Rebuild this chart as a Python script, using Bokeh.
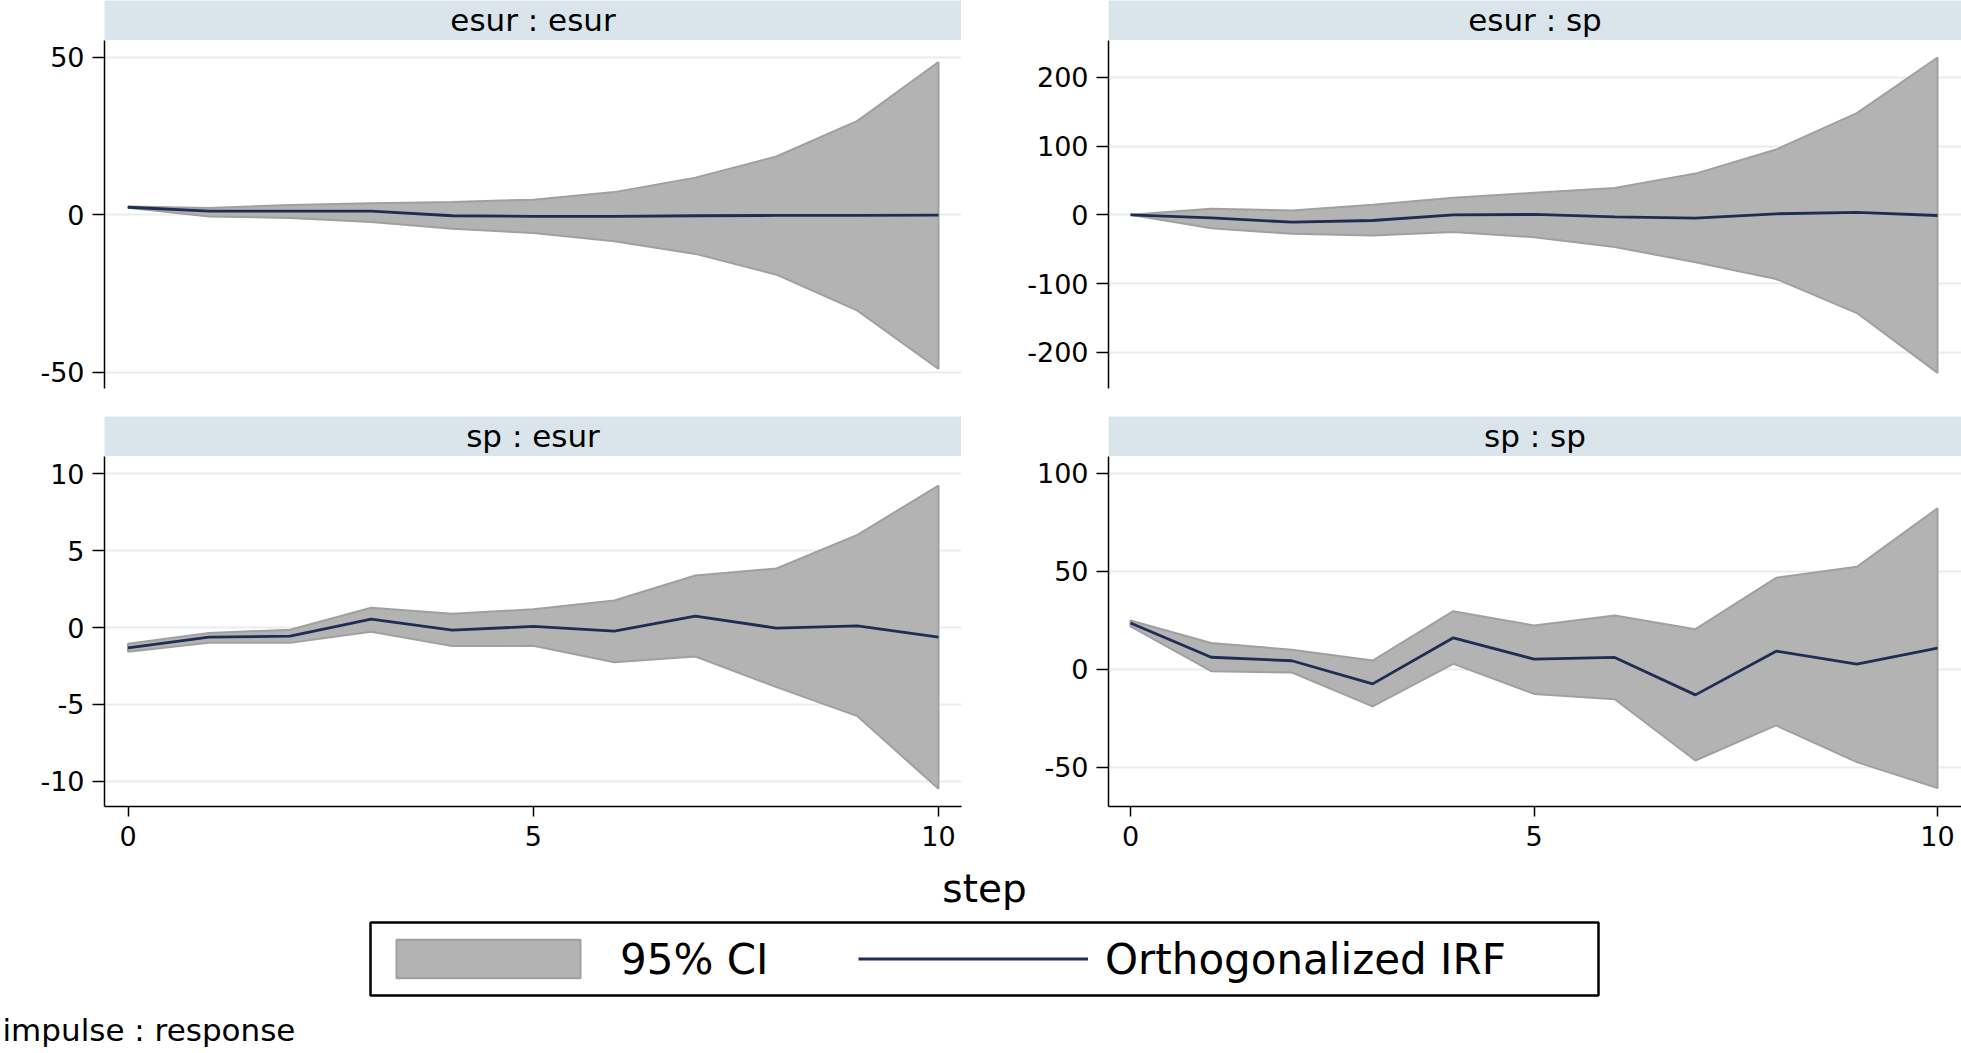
from bokeh.plotting import figure
from bokeh.models import Range1d, FixedTicker, Label, Legend, LegendItem, Spacer, BoxAnnotation
from bokeh.layouts import row, column
from bokeh.embed import file_html
from bokeh.resources import INLINE

# ---------------- data ----------------
steps = [0, 1, 2, 3, 4, 5, 6, 7, 8, 9, 10]
x_ticks = [0, 5, 10]

# impulse esur -> response esur
esur_esur_irf = [2.4, 1.2, 1.2, 1.2, -0.3, -0.5, -0.5, -0.3, -0.2, -0.2, -0.1]
esur_esur_upper = [2.6, 2.2, 3.1, 3.7, 4.1, 4.8, 7.2, 11.8, 18.5, 29.8, 48.5]
esur_esur_lower = [2.2, -0.5, -1.0, -2.3, -4.4, -5.8, -8.4, -12.4, -19.0, -30.4, -48.9]
esur_esur_ticks = [-50, 0, 50]

# impulse esur -> response sp
esur_sp_irf = [0.0, -4.4, -10.7, -8.3, 0.0, 0.5, -3.0, -4.9, 1.5, 3.4, -1.0]
esur_sp_upper = [0.0, 8.8, 6.3, 14.6, 24.8, 32.0, 39.0, 60.0, 95.0, 148.0, 229.0]
esur_sp_lower = [0.0, -19.5, -27.7, -30.0, -25.0, -32.6, -47.0, -69.0, -93.4, -143.0, -230.0]
esur_sp_ticks = [-200, -100, 0, 100, 200]

# impulse sp -> response esur
sp_esur_irf = [-1.32, -0.63, -0.56, 0.54, -0.17, 0.07, -0.24, 0.74, -0.04, 0.10, -0.63]
sp_esur_upper = [-1.06, -0.35, -0.15, 1.28, 0.89, 1.19, 1.76, 3.38, 3.84, 6.03, 9.24]
sp_esur_lower = [-1.58, -1.00, -1.00, -0.28, -1.21, -1.19, -2.26, -1.89, -3.88, -5.77, -10.5]
sp_esur_ticks = [-10, -5, 0, 5, 10]

# impulse sp -> response sp
sp_sp_irf = [23.6, 6.1, 4.3, -7.5, 16.0, 5.1, 6.0, -13.1, 9.2, 2.6, 10.7]
sp_sp_upper = [24.8, 13.4, 9.9, 4.4, 29.6, 22.3, 27.4, 20.4, 46.6, 52.2, 82.1]
sp_sp_lower = [21.8, -1.0, -1.7, -19.0, 2.7, -12.6, -15.3, -46.6, -28.7, -47.4, -60.7]
sp_sp_ticks = [-50, 0, 50, 100]

panel_titles = ["esur : esur", "esur : sp", "sp : esur", "sp : sp"]
legend_labels = ["95% CI", "Orthogonalized IRF"]
x_title = "step"
note_text = "impulse : response"

# ---------------- styles ----------------
FONT = "DejaVu Sans"
BAND_FILL = "#b3b3b3"
BAND_LINE = "#a0a0a0"
IRF_COLOR = "#1f2d55"
STRIP = "#dae5eb"
GRID = "#e6eef1"
TICK_FS = "27px"


def header(width, text):
    h = figure(width=width, height=40, x_range=Range1d(0, 1), y_range=Range1d(40, 0),
               x_axis_location=None, y_axis_location=None, min_border=0, title=None,
               output_backend="svg", toolbar_location=None,
               background_fill_color=STRIP, border_fill_color=STRIP)
    h.grid.visible = False
    h.outline_line_color = None
    h.add_layout(Label(x=0.5, y=19, text=text, text_align="center",
                       text_baseline="middle", text_font=FONT,
                       text_font_size="31px", text_color="black"))
    return h


def style_axis(ax, ticks, tick_out, standoff):
    ax.ticker = FixedTicker(ticks=ticks)
    ax.major_label_overrides = {t: str(t) for t in ticks}
    ax.minor_tick_line_color = None
    ax.major_tick_in = 0
    ax.major_tick_out = tick_out
    ax.major_tick_line_width = 1.5
    ax.axis_line_width = 1.5
    ax.major_label_standoff = standoff
    ax.major_label_text_font = FONT
    ax.major_label_text_font_size = TICK_FS
    ax.major_label_text_color = "black"


def panel(width, height, left, right, bottom, xr, yr, yticks, irf, lower, upper, show_x):
    p = figure(width=width, height=height, x_range=Range1d(*xr), y_range=Range1d(*yr),
               x_axis_location="below" if show_x else None, y_axis_location="left",
               min_border_left=left, min_border_right=right, min_border_top=0,
               min_border_bottom=bottom, title=None, output_backend="svg",
               toolbar_location=None, background_fill_color="white",
               border_fill_color="white")
    p.outline_line_color = None
    p.xgrid.visible = False
    p.ygrid.grid_line_color = GRID
    p.ygrid.grid_line_width = 2
    style_axis(p.yaxis[0], yticks, 12, 8)
    if show_x:
        style_axis(p.xaxis[0], x_ticks, 10, 9)
    band_x = steps + steps[::-1]
    band_y = list(upper) + list(lower)[::-1]
    p.patch(band_x, band_y, fill_color=BAND_FILL, line_color=BAND_LINE, line_width=2)
    p.line(steps, irf, line_color=IRF_COLOR, line_width=2.8)
    return p


LW, RW = 980, 981          # column widths
LB, RB = 104, 128          # left borders
LR = 19                    # right border of the left column
LFW, RFW = LW - LB - LR, RW - RB
LXR = (-0.29, 10.284)
RXR = (-0.2726, 10.297)

f1 = panel(LW, 376, LB, LR, 28, LXR, (-55.1, 55.3), esur_esur_ticks,
           esur_esur_irf, esur_esur_lower, esur_esur_upper, False)
f2 = panel(RW, 376, RB, 0, 28, RXR, (-252.8, 253.7), esur_sp_ticks,
           esur_sp_irf, esur_sp_lower, esur_sp_upper, False)
f3 = panel(LW, 410, LB, LR, 60, LXR, (-11.65, 11.13), sp_esur_ticks,
           sp_esur_irf, sp_esur_lower, sp_esur_upper, True)
f4 = panel(RW, 410, RB, 0, 60, RXR, (-70.05, 108.5), sp_sp_ticks,
           sp_sp_irf, sp_sp_lower, sp_sp_upper, True)

left_col = column(row(Spacer(width=LB, height=40), header(LFW, panel_titles[0])), f1,
                  row(Spacer(width=LB, height=40), header(LFW, panel_titles[2])), f3)
right_col = column(row(Spacer(width=RB, height=40), header(RFW, panel_titles[1])), f2,
                   row(Spacer(width=RB, height=40), header(RFW, panel_titles[3])), f4)

TOTAL_W = LW + RW


def blank(width, height, yr):
    b = figure(width=width, height=height, x_range=Range1d(0, width), y_range=Range1d(*yr),
               x_axis_location=None, y_axis_location=None, min_border=0, title=None,
               output_backend="svg", toolbar_location=None,
               background_fill_color="white", border_fill_color="white")
    b.grid.visible = False
    b.outline_line_color = None
    return b


# x-axis title
sf = blank(TOTAL_W, 46, (46, 0))
sf.add_layout(Label(x=984, y=22, text=x_title, text_align="center", text_baseline="middle",
                    text_font=FONT, text_font_size="39px", text_color="black"))

# legend (the key glyphs need a non-empty source; it lies outside the frame)
LEG_H = 93
lf = blank(TOTAL_W, LEG_H, (LEG_H, 0))
r_band = lf.patch(x=[-5, -5, -4], y=[-5, -4, -4], fill_color=BAND_FILL,
                  line_color=BAND_LINE, line_width=2)
r_irf = lf.line(x=[-5, -4], y=[-5, -5], line_color=IRF_COLOR, line_width=3)
# frame of the key box
lf.add_layout(BoxAnnotation(left=370, right=1598, top=10, bottom=83,
                            fill_alpha=0, line_color="black", line_alpha=1.0,
                            line_width=2.5))
leg = Legend(items=[LegendItem(label=legend_labels[0], renderers=[r_band]),
                    LegendItem(label=legend_labels[1], renderers=[r_irf])],
             orientation="horizontal", location="left", margin=373, padding=12,
             spacing=38, label_standoff=17, label_width=200, glyph_width=230,
             glyph_height=48, label_text_font=FONT, label_text_font_size="42px",
             label_text_color="black", border_line_color=None,
             background_fill_alpha=0.0)
lf.add_layout(leg, "center")

# note
nf = blank(TOTAL_W, 48, (48, 0))
nf.add_layout(Label(x=2, y=24, text=note_text, text_align="left", text_baseline="middle",
                    text_font=FONT, text_font_size="31px", text_color="black"))

layout = column(row(left_col, right_col), sf, lf, nf)

open("out.html", "w").write(file_html(layout, INLINE))
